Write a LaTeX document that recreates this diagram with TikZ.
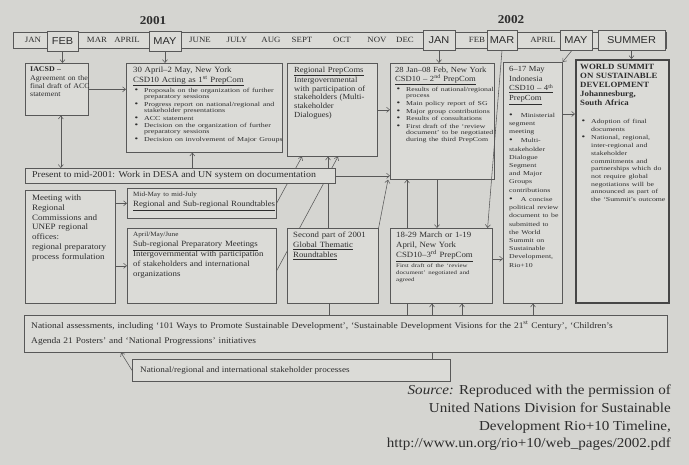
\documentclass[tikz,border=0pt]{standalone}
\usepackage{fontspec}
\setmainfont{Liberation Serif}[FakeStretch=1.1]
\setsansfont{Liberation Sans}[FakeStretch=1.1]
\newfontfamily\widefont{Liberation Serif}[FakeStretch=1.3]
\usepackage{tikz}
\usetikzlibrary{positioning,backgrounds,arrows.meta}
\setlength{\parindent}{0pt}
\definecolor{paper}{RGB}{213,213,209}
\definecolor{boxfill}{RGB}{219,219,215}
\definecolor{ink}{RGB}{88,88,88}
\definecolor{txtink}{RGB}{45,45,45}
\newcommand{\bdot}{{\fontsize{8}{8}\selectfont\textbullet}}
\newcommand{\bulfont}[2][6.4]{\widefont\fontsize{#2}{#1}\selectfont\setlength{\parskip}{1.2pt}}
\newcommand{\itm}{\par\noindent\hangindent=11pt\hangafter=1\makebox[11pt][l]{\hspace{1.5pt}\bdot}\ignorespaces}

\begin{document}
\begin{tikzpicture}[x=1pt, y=-1pt,
		box/.style={draw=ink, fill=boxfill, line width=0.6pt, inner sep=0pt, anchor=north west},
		txt/.style={anchor=north west, inner sep=0pt, align=left, text=txtink, font=\fontsize{8}{10}\selectfont},
		mon/.style={text=txtink, font=\fontsize{8}{8}\selectfont},
		mbox/.style={draw=ink, fill=boxfill, line width=0.6pt, inner sep=0pt, minimum height=20pt,
			text=txtink, font=\sffamily\fontsize{10}{10}\selectfont},
		yr/.style={text=txtink, font=\bfseries\fontsize{12}{12}\selectfont},
		arr/.style={->, >={Straight Barb[length=3pt,width=5pt]}, draw=ink, line width=0.55pt},
		ln/.style={draw=ink, line width=0.55pt}
		]
		\useasboundingbox (0,0) rectangle (689,465);
		
		% month bar
		\node[box, minimum width=653pt, minimum height=16pt] (bar) at (13,32) {};
		\foreach \m/\x [count=\i] in {JAN/33, MAR/97, APRIL/127, JUNE/200, JULY/237, AUG/271,
			SEPT/302, OCT/342, NOV/377, DEC/405, FEB/477, APRIL/543}
		\node[mon] (mon\i) at (\x,40) {\m};
		\node[mbox, minimum width=31pt] (feb)    at (62.5,41) {FEB};
		\node[mbox, minimum width=32pt] (may1)   at (165,41)  {MAY};
		\node[mbox, minimum width=32pt] (jan2)   at (439,40)  {JAN};
		\node[mbox, minimum width=30pt] (mar)    at (502,40)  {MAR};
		\node[mbox, minimum width=32pt] (may2)   at (576,40)  {MAY};
		\node[mbox, minimum width=67pt] (summer) at (631.5,40) {SUMMER};
		\node[yr] (y2001) at (153,21) {2001};
		\node[yr] (y2002) at (511,20) {2002};
		
		% boxes
		\node[box, minimum width=63pt,  minimum height=52pt]  (iacsd)   at (25,63)  {};
		\node[box, minimum width=156pt, minimum height=89pt]  (apr)     at (126,63) {};
		\node[box, minimum width=90pt,  minimum height=93pt]  (regpc)   at (287,63) {};
		\node[box, minimum width=104pt, minimum height=116pt] (csd2)    at (390,63) {};
		\node[box, minimum width=59pt,  minimum height=241pt] (sixt)    at (503,62) {};
		\node[box, minimum width=93pt,  minimum height=243pt, line width=1.7pt, draw=ink!80!black] (wss) at (575,59) {};
		\node[box, minimum width=310pt, minimum height=15pt]  (present) at (25,168) {};
		\node[box, minimum width=90pt,  minimum height=113pt] (meet)    at (25,190) {};
		\node[box, minimum width=149pt, minimum height=30pt]  (round)   at (127,188) {};
		\node[box, minimum width=149pt, minimum height=75pt]  (subreg)  at (127,228) {};
		\node[box, minimum width=91pt,  minimum height=75pt]  (second)  at (287,228) {};
		\node[box, minimum width=102pt, minimum height=75pt]  (csd3)    at (390,228) {};
		\node[box, minimum width=643pt, minimum height=37pt]  (national) at (24,315) {};
		\node[box, minimum width=318pt, minimum height=22pt]  (stake)   at (132,359) {};
		
		% texts
		\node[txt, font=\fontsize{7.2}{8.2}\selectfont, text width=60pt] (iacsd-t)
		at ([xshift=5pt,yshift=-4pt]iacsd.north west)
		{\textbf{IACSD –}\\Agreement on the\\final draft of ACC\\statement};
		\node[txt, font=\fontsize{8}{9.5}\selectfont, text width=152pt] (apr-t)
		at ([xshift=7pt,yshift=-4pt]apr.north west)
		{30 April–2 May, New York\\\underline{CSD10 Acting as 1\textsuperscript{st} PrepCom}\par
			{\bulfont[6.3]{6.1} \itm Proposals on the organization of further\newline preparatory sessions
				\itm Progress report on national/regional and\newline stakeholder presentations
				\itm ACC statement
				\itm Decision on the organization of further\newline preparatory sessions
				\itm Decision on involvement of Major Groups\par}};
		\node[txt, font=\fontsize{7.8}{8.6}\selectfont, text width=85pt] (regpc-t)
		at ([xshift=7pt,yshift=-4pt]regpc.north west)
		{\underline{Regional PrepComs}\\Intergovernmental\\with participation of\\stakeholders (Multi-\\stakeholder\\Dialogues)};
		\node[txt, font=\fontsize{7.8}{8.8}\selectfont, text width=100pt] (csd2-t)
		at ([xshift=5pt,yshift=-4pt]csd2.north west)
		{28 Jan–08 Feb, New York\\\underline{CSD10 – 2\textsuperscript{nd} PrepCom}\par
			{\bulfont{6} \itm Results of national/regional\newline process
				\itm Main policy report of SG
				\itm Major group contributions
				\itm Results of consultations
				\itm First draft of the ‘review\newline document’ to be negotiated\newline during the third PrepCom\par}};
		\node[txt, font=\fontsize{7.8}{9.8}\selectfont, text width=56pt] (sixt-t)
		at ([xshift=6pt,yshift=-4pt]sixt.north west)
		{6–17 May\\Indonesia\\\underline{CSD10 – 4\textsuperscript{th}}\\\underline{PrepCom}\par\vspace{7pt}
			{\bulfont[8.2]{6} \bdot\hspace{8pt}Ministerial\\segment\\meeting\par
				\bdot\hspace{8pt}Multi-\\stakeholder\\Dialogue\\Segment\\and Major\\Groups\\contributions\par
				\bdot\hspace{8pt}A concise\\political review\\document to be\\submitted to\\the World\\Summit on\\Sustainable\\Development,\\Rio+10\par}};
		\node[txt, font=\bfseries\fontsize{8}{9}\selectfont, text width=88pt] (wss-t)
		at ([xshift=5pt,yshift=-5pt]wss.north west)
		{WORLD SUMMIT\\ON SUSTAINABLE\\DEVELOPMENT\\Johannesburg,\\South Africa\par\vspace{9pt}
			{\mdseries\bulfont[7.7]{6} \itm Adoption of final\newline documents
				\itm National, regional,\newline inter-regional and\newline stakeholder\newline commitments and\newline partnerships which do\newline not require global\newline negotiations will be\newline announced as part of\newline the ‘Summit’s outcome\par}};
		\node[txt, font=\fontsize{9}{10}\selectfont, anchor=west] (present-t)
		at ([xshift=7pt]present.west)
		{Present to mid-2001: Work in DESA and UN system on documentation};
		\node[txt, font=\fontsize{8.2}{9.7}\selectfont, text width=85pt] (meet-t)
		at ([xshift=7pt,yshift=-5pt]meet.north west)
		{Meeting with\\Regional\\Commissions and\\UNEP regional\\offices:\\regional preparatory\\process formulation};
		\node[txt, text width=143pt] (round-t)
		at ([xshift=6pt,yshift=-4pt]round.north west)
		{{\fontsize{6.5}{8}\selectfont Mid-May to mid-July}\\\underline{Regional and Sub-regional Roundtables}};
		\node[txt, text width=143pt] (subreg-t)
		at ([xshift=6pt,yshift=-4pt]subreg.north west)
		{{\fontsize{6.5}{8}\selectfont April/May/June}\\\underline{Sub-regional Preparatory Meetings}\\Intergovernmental with participation\\of stakeholders and international\\organizations};
		\node[txt, text width=85pt] (second-t)
		at ([xshift=6pt,yshift=-4pt]second.north west)
		{Second part of 2001\\\underline{Global Thematic}\\\underline{Roundtables}};
		\node[txt, text width=96pt] (csd3-t)
		at ([xshift=6pt,yshift=-4pt]csd3.north west)
		{18-29 March or 1-19\\April, New York\\\underline{CSD10–3\textsuperscript{rd} PrepCom}\par
			{\bulfont[7]{5.3} First draft of the ‘review\\document’ negotiated and\\agreed\par}};
		\node[txt, font=\fontsize{8.6}{15}\selectfont, text width=635pt] (national-t)
		at ([xshift=7pt,yshift=-6pt]national.north west)
		{National assessments, including ‘101 Ways to Promote Sustainable Development’, ‘Sustainable Development Visions for the 21\textsuperscript{st} Century’, ‘Children’s\\Agenda 21 Posters’ and ‘National Progressions’ initiatives};
		\node[txt, font=\fontsize{8.3}{10}\selectfont, anchor=west] (stake-t)
		at ([xshift=8pt]stake.west)
		{National/regional and international stakeholder processes};
		
		% connectors
		\draw[arr] (feb.south) -- (feb.south |- iacsd.north);
		\draw[arr] (may1.south) -- (may1.south |- apr.north);
		\draw[arr] (jan2.south) -- (jan2.south |- csd2.north);
		\draw[arr] (mar.south) -- ([xshift=-5pt]csd3.north east);
		\draw[arr] ([xshift=-4pt]may2.south) -- (sixt.north east);
		\draw[arr] (summer.south) -- (summer.south |- wss.north);
		
		\draw[arr] (iacsd.east) -- (iacsd.east -| apr.west);
		\draw[arr, <->] ([xshift=4pt]iacsd.south) -- ([xshift=4pt]iacsd.south |- present.north);
		\draw[arr] ([xshift=-12pt]apr.south |- present.north) -- ([xshift=-12pt]apr.south);
		\draw[arr] (regpc.east) -- (regpc.east -| csd2.west);
		\draw[arr] (present.east) -- (present.east -| csd2.west);
		\draw[arr] (meet.east |- round.west) -- (round.west);
		\draw[arr] (meet.east |- subreg.west) -- (subreg.west);
		\draw[arr] (second.north east) -- ([xshift=-2pt]csd2.south west);
		\draw[arr] ([xshift=17pt]csd3.north west) -- ([xshift=17pt]csd2.south west);
		\draw[arr] ([xshift=47pt]csd2.south west) -- ([xshift=47pt]csd2.south west |- csd3.north);
		\draw[arr] ([yshift=7pt]csd3.east) -- ([yshift=7pt]csd3.east -| sixt.west);
		\draw[arr] ([yshift=-52pt]sixt.north east) -- ([yshift=-52pt]sixt.north east -| wss.west);
		
		\draw[ln] ([xshift=42pt]second.south west) -- ([xshift=42pt]second.south west |- national.north);
		\draw[ln] ([xshift=17pt]csd3.south west) -- ([xshift=17pt]csd3.south west |- national.north);
		\draw[arr] ([xshift=42pt]csd3.south west |- national.north) -- ([xshift=42pt]csd3.south west);
		\draw[arr] ([xshift=72pt]csd3.south west |- national.north) -- ([xshift=72pt]csd3.south west);
		\draw[arr] ([xshift=30pt]sixt.south west |- national.north) -- ([xshift=30pt]sixt.south west);
		\draw[ln] ([xshift=300pt]stake.north west) -- ([xshift=300pt]stake.north west |- national.south);
		\draw[arr] (stake.west) -- ([xshift=97pt]national.south west);
		
		% lines passing behind boxes
		\begin{scope}[on background layer]
			\fill[paper] (0,0) rectangle (689,465);
			\draw[arr] (round.east) -- ([xshift=15pt]regpc.south west);
			\draw[arr] ([yshift=-5pt]subreg.east) -- ([xshift=51pt]regpc.south west);
			\draw[arr] ([xshift=41pt]second.north west) -- ([xshift=41pt]regpc.south west);
		\end{scope}
		
		\node[anchor=north east, align=right, inner sep=0pt, text=txtink,
		font=\fontsize{13.7}{17.6}\selectfont] (src) at (671,385)
		{\textit{Source:} Reproduced with the permission of\\United Nations Division for Sustainable\\Development Rio+10 Timeline,\\http://www.un.org/rio+10/web\_pages/2002.pdf};
\end{tikzpicture}
\end{document}
